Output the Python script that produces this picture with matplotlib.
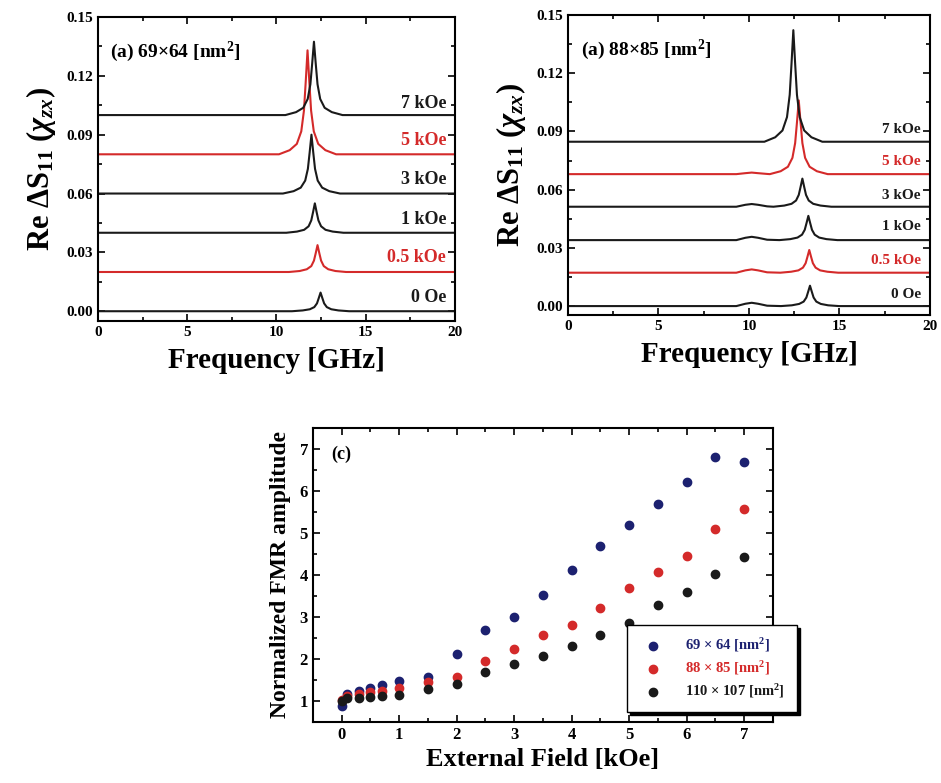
import matplotlib
matplotlib.use('Agg')
import matplotlib.pyplot as plt
from matplotlib.ticker import MultipleLocator, FormatStrFormatter

plt.rcParams['font.family'] = ['Liberation Serif', 'DejaVu Serif']
plt.rcParams['font.weight'] = 'bold'
plt.rcParams['axes.labelweight'] = 'bold'
plt.rcParams['mathtext.fontset'] = 'custom'
plt.rcParams['mathtext.rm'] = 'Liberation Serif:bold'
plt.rcParams['mathtext.it'] = 'Liberation Serif:italic:bold'
plt.rcParams['mathtext.bf'] = 'Liberation Serif:bold'

BLACK = '#1a1a1a'
RED = '#d42a2a'
BLUE = '#1c2170'

# ---- panel (a) 69x64 : spectra, offset per field ----
a_labels = ['0 Oe', '0.5 kOe', '1 kOe', '3 kOe', '5 kOe', '7 kOe']
a_colors = [BLACK, RED, BLACK, BLACK, RED, BLACK]
a_label_y = [0.0071, 0.0275, 0.047, 0.067, 0.087, 0.106]
a_f = [
    [0, 10.87, 11.47, 11.87, 12.12, 12.27, 12.37, 12.47, 12.57, 12.67, 12.82, 13.07, 13.47, 14.07, 20],
    [0, 10.7, 11.3, 11.7, 11.95, 12.1, 12.2, 12.3, 12.4, 12.5, 12.65, 12.9, 13.3, 13.9, 20],
    [0, 10.55, 11.15, 11.55, 11.8, 11.95, 12.05, 12.15, 12.25, 12.35, 12.5, 12.75, 13.15, 13.75, 20],
    [0, 10.36, 10.96, 11.36, 11.61, 11.76, 11.86, 11.96, 12.06, 12.16, 12.31, 12.56, 12.96, 13.56, 20],
    [0, 10.14, 10.74, 11.14, 11.39, 11.54, 11.64, 11.74, 11.84, 11.94, 12.09, 12.34, 12.74, 13.34, 20],
    [0, 10.5, 11.1, 11.5, 11.75, 11.9, 12.0, 12.1, 12.2, 12.3, 12.45, 12.7, 13.1, 13.7, 20],
]
a_y = [
    [0, 0, 0.0004, 0.0010, 0.0021, 0.0040, 0.0067, 0.0095, 0.0067, 0.0040, 0.0021, 0.0010, 0.0004, 0, 0],
    [0.020, 0.020, 0.0205, 0.0214, 0.0230, 0.0258, 0.0296, 0.0337, 0.0296, 0.0258, 0.0230, 0.0214, 0.0205, 0.020, 0.020],
    [0.040, 0.040, 0.0406, 0.0415, 0.0433, 0.0463, 0.0505, 0.055, 0.0505, 0.0463, 0.0433, 0.0415, 0.0406, 0.040, 0.040],
    [0.060, 0.060, 0.0612, 0.063, 0.0666, 0.0726, 0.081, 0.090, 0.081, 0.0726, 0.0666, 0.063, 0.0612, 0.060, 0.060],
    [0.080, 0.080, 0.0821, 0.0853, 0.0917, 0.1023, 0.1171, 0.133, 0.1171, 0.1023, 0.0917, 0.0853, 0.0821, 0.080, 0.080],
    [0.100, 0.100, 0.1015, 0.1037, 0.1082, 0.1157, 0.1262, 0.1374, 0.1262, 0.1157, 0.1082, 0.1037, 0.1015, 0.100, 0.100],
]

# ---- panel (b) 88x85 ----
b_labels = ['0 Oe', '0.5 kOe', '1 kOe', '3 kOe', '5 kOe', '7 kOe']
b_colors = [BLACK, RED, BLACK, BLACK, RED, BLACK]
b_label_y = [0.0062, 0.0237, 0.041, 0.057, 0.0744, 0.091]
b_f = [
    [0, 9.3, 9.8, 10.15, 10.5, 11.0, 11.77, 12.37, 12.77, 13.02, 13.17, 13.27, 13.37, 13.47, 13.57, 13.72, 13.97, 14.37, 14.97, 20],
    [0, 9.3, 9.8, 10.15, 10.5, 11.0, 11.73, 12.33, 12.73, 12.98, 13.13, 13.23, 13.33, 13.43, 13.53, 13.68, 13.93, 14.33, 14.93, 20],
    [0, 9.3, 9.8, 10.15, 10.5, 11.0, 11.68, 12.28, 12.68, 12.93, 13.08, 13.18, 13.28, 13.38, 13.48, 13.63, 13.88, 14.28, 14.88, 20],
    [0, 9.3, 9.8, 10.15, 10.5, 11.0, 11.35, 11.95, 12.35, 12.6, 12.75, 12.85, 12.95, 13.05, 13.15, 13.3, 13.55, 13.95, 14.55, 20],
    [0, 9.3, 9.8, 10.15, 10.5, 11.0, 11.15, 11.75, 12.15, 12.4, 12.55, 12.65, 12.75, 12.85, 12.95, 13.1, 13.35, 13.75, 14.35, 20],
    [0, 10.85, 11.45, 11.85, 12.1, 12.25, 12.35, 12.45, 12.55, 12.65, 12.8, 13.05, 13.45, 14.05, 20],
]
b_y = [
    [0, 0, 0.0012, 0.0017, 0.0012, 0.0002, 0, 0.0004, 0.0011, 0.0023, 0.0044, 0.0074, 0.0105, 0.0074, 0.0044, 0.0023, 0.0011, 0.0004, 0, 0],
    [0.0172, 0.0172, 0.0184, 0.0189, 0.0184, 0.0174, 0.0172, 0.0177, 0.0184, 0.0198, 0.0221, 0.0254, 0.0289, 0.0254, 0.0221, 0.0198, 0.0184, 0.0177, 0.0172, 0.0172],
    [0.034, 0.034, 0.0352, 0.0357, 0.0352, 0.0342, 0.034, 0.0345, 0.0353, 0.0368, 0.0393, 0.0428, 0.0465, 0.0428, 0.0393, 0.0368, 0.0353, 0.0345, 0.034, 0.034],
    [0.0512, 0.0512, 0.0522, 0.0526, 0.0522, 0.0514, 0.0512, 0.0518, 0.0527, 0.0544, 0.0573, 0.0614, 0.0657, 0.0614, 0.0573, 0.0544, 0.0527, 0.0518, 0.0512, 0.0512],
    [0.068, 0.068, 0.0685, 0.0688, 0.0685, 0.0681, 0.068, 0.0695, 0.0718, 0.0764, 0.084, 0.0946, 0.106, 0.0946, 0.084, 0.0764, 0.0718, 0.0695, 0.068, 0.068],
    [0.0847, 0.0847, 0.087, 0.0905, 0.0974, 0.1089, 0.125, 0.1422, 0.125, 0.1089, 0.0974, 0.0905, 0.087, 0.0847, 0.0847],
]

# ---- panel (c) normalized FMR amplitude ----
field = [0, 0.1, 0.3, 0.5, 0.7, 1.0, 1.5, 2, 2.5, 3, 3.5, 4, 4.5, 5, 5.5, 6, 6.5, 7]
amp_69 = [0.87, 1.17, 1.24, 1.32, 1.38, 1.48, 1.56, 2.13, 2.68, 3.0, 3.52, 4.13, 4.7, 5.2, 5.68, 6.22, 6.8, 6.7]
amp_88 = [1.02, 1.12, 1.16, 1.22, 1.25, 1.32, 1.46, 1.57, 1.95, 2.24, 2.56, 2.82, 3.22, 3.68, 4.06, 4.46, 5.1, 5.57]
amp_110 = [1.0, 1.06, 1.08, 1.1, 1.12, 1.15, 1.28, 1.4, 1.7, 1.87, 2.08, 2.32, 2.56, 2.86, 3.29, 3.6, 4.03, 4.42]
c_labels = ['69 $\\times$ 64 [nm$^2$]', '88 $\\times$ 85 [nm$^2$]', '110 $\\times$ 107 [nm$^2$]']


def style_ticks(ax, size):
    ax.tick_params(which='both', direction='in', top=True, right=True, width=1.2)
    ax.tick_params(which='major', length=5, labelsize=size)
    ax.tick_params(which='minor', length=3)
    for s in ax.spines.values():
        s.set_linewidth(1.5)


fig = plt.figure(figsize=(9.41, 7.83), dpi=100)

ax1 = fig.add_axes([0.1041, 0.590, 0.3794, 0.3883])
ax2 = fig.add_axes([0.6036, 0.5977, 0.3847, 0.3831])
ax3 = fig.add_axes([0.3326, 0.0779, 0.4888, 0.3755])

for ax, fs, ys, labs, cols, ly, ylo, title, lsize in [
        (ax1, a_f, a_y, a_labels, a_colors, a_label_y, -0.005, '(a) 69\u00d764 [nm$^2$]', 13),
        (ax2, b_f, b_y, b_labels, b_colors, b_label_y, -0.0046, '(a) 88\u00d785 [nm$^2$]', 11)]:
    for f, y, lab, col, yl in zip(fs, ys, labs, cols, ly):
        ax.plot(f, y, color=col, lw=1.5)
        ax.text(19.5, yl, lab, color=col, ha='right', va='center', fontsize=lsize)
    ax.set_xlim(0, 20)
    ax.set_ylim(ylo, 0.15)
    ax.xaxis.set_major_locator(MultipleLocator(5))
    ax.xaxis.set_minor_locator(MultipleLocator(2.5))
    ax.yaxis.set_major_locator(MultipleLocator(0.03))
    ax.yaxis.set_minor_locator(MultipleLocator(0.015))
    ax.yaxis.set_major_formatter(FormatStrFormatter('%.2f'))
    style_ticks(ax, 11)
    ax.set_xlabel('Frequency [GHz]', fontsize=21, labelpad=6)
    ax.set_ylabel('Re $\\Delta$S$_{11}$ ($\\chi_{zx}$)', fontsize=22, labelpad=6)
    ax.text(0.035, 0.885, title, transform=ax.transAxes, fontsize=14, va='center')

ax3.scatter(field, amp_69, s=36, color=BLUE, label=c_labels[0], zorder=3)
ax3.scatter(field, amp_88, s=36, color=RED, label=c_labels[1], zorder=3)
ax3.scatter(field, amp_110, s=36, color=BLACK, label=c_labels[2], zorder=3)
ax3.set_xlim(-0.5, 7.5)
ax3.set_ylim(0.5, 7.5)
ax3.xaxis.set_major_locator(MultipleLocator(1))
ax3.xaxis.set_minor_locator(MultipleLocator(0.5))
ax3.yaxis.set_major_locator(MultipleLocator(1))
ax3.yaxis.set_minor_locator(MultipleLocator(0.5))
style_ticks(ax3, 12)
ax3.set_xlabel('External Field [kOe]', fontsize=19, labelpad=4)
ax3.set_ylabel('Normalized FMR amplitude', fontsize=17, labelpad=6)
ax3.text(0.04, 0.91, '(c)', transform=ax3.transAxes, fontsize=13, va='center')

leg = ax3.legend(loc='lower left', bbox_to_anchor=(0.683, 0.034), fontsize=10.5,
                 fancybox=False, edgecolor='black', framealpha=1,
                 shadow={'color': 'black', 'alpha': 1}, borderpad=0.8,
                 handletextpad=1.2, labelspacing=0.35, borderaxespad=0)
leg.get_frame().set_linewidth(1.0)
for txt, col in zip(leg.get_texts(), [BLUE, RED, BLACK]):
    txt.set_color(col)
leg.set_zorder(5)

fig.savefig('out.png', dpi=100)
